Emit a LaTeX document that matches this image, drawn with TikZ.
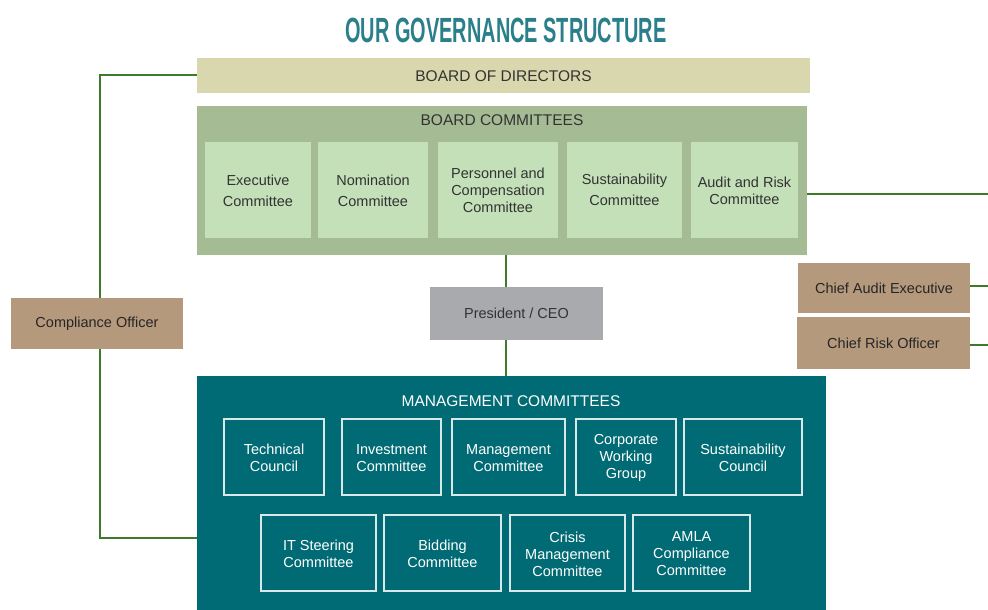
\documentclass[tikz,border=0pt]{standalone}
\usepackage{fontspec}
\setmainfont{Liberation Sans}
\usetikzlibrary{positioning}
\definecolor{titlecol}{HTML}{2B7F8A}
\definecolor{bodcol}{HTML}{D9D7AD}
\definecolor{bccol}{HTML}{A4BB94}
\definecolor{bcin}{HTML}{C3E0B8}
\definecolor{prescol}{HTML}{A9AAAD}
\definecolor{mgmtcol}{HTML}{006B74}
\definecolor{tancol}{HTML}{B5997C}
\definecolor{linecol}{HTML}{3D7A2B}
\definecolor{txtcol}{HTML}{333333}
\begin{document}
\begin{tikzpicture}[x=1pt,y=-1pt,
  txt/.style={font=\fontsize{14.5}{17}\selectfont, text=txtcol, align=center, inner sep=0pt},
  hdr/.style={font=\fontsize{15.5}{18}\selectfont, inner sep=0pt},
  panel/.style={draw=none, inner sep=0pt, anchor=north west},
  bcbox/.style={fill=bcin, draw=none},
  mgbox/.style={draw=white!85!mgmtcol, line width=1.1pt},
  tanbox/.style={fill=tancol, draw=none},
  conn/.style={draw=linecol, line width=1.3pt},
  connthick/.style={draw=linecol, line width=2pt}]
\useasboundingbox (0,0) rectangle (988,610);
\fill[white] (0,0) rectangle (988,610);

% title
\node (title) at (506,30) {\color{titlecol}\scalebox{0.57}[1]{\fontsize{35}{40}\selectfont\bfseries OUR GOVERNANCE STRUCTURE}};

% board of directors
\fill[bodcol] (197,58) rectangle (810,93);
\node[hdr, text=txtcol] (bod) at (503.5,76) {BOARD OF DIRECTORS};
\coordinate (bodw) at (197,75);

% board committees
\fill[bccol] (197,106) rectangle (807,255);
\node[hdr, text=txtcol] (bclab) at (502,120.5) {BOARD COMMITTEES};
\coordinate (bcs) at (506,255);
\coordinate (bce) at (807,194);

\fill[bcbox] (205,142) rectangle (311,238);
\node[txt] (exec) at (258,191) {Executive\\[3.5pt]Committee};
\fill[bcbox] (318,142) rectangle (428,238);
\node[txt] (nom) at (373,191) {Nomination\\[3.5pt]Committee};
\fill[bcbox] (438,142) rectangle (558,238);
\node[txt] (pers) at (498,190.5) {Personnel and\\Compensation\\Committee};
\fill[bcbox] (567,142) rectangle (682,238);
\node[txt] (sust) at (624.5,190) {Sustainability\\[3.5pt]Committee};
\fill[bcbox] (691,142) rectangle (798,238);
\node[txt] (arc) at (744.5,191) {Audit and Risk\\Committee};

% president
\node[fill=prescol, minimum width=173pt, minimum height=53pt, inner sep=0pt, txt] (ceo) at (516.5,313.5) {President / CEO};

% management committees
\fill[mgmtcol] (197,376) rectangle (826,610);
\node[hdr, text=white] (mglab) at (511,401.5) {MANAGEMENT COMMITTEES};
\coordinate (mgn) at (506,376);
\coordinate (mgw) at (197,538);

\tikzset{mtxt/.style={txt, text=white}}
\draw[mgbox] (224,419) rectangle (324,495);
\node[mtxt] (tech) at (274,458) {Technical\\Council};
\draw[mgbox] (342,419) rectangle (441,495);
\node[mtxt] (inv) at (391.5,458) {Investment\\Committee};
\draw[mgbox] (452,419) rectangle (565,495);
\node[mtxt] (mgc) at (508.5,458) {Management\\Committee};
\draw[mgbox] (576,419) rectangle (676,495);
\node[mtxt] (cwg) at (626,458) {Corporate\\Working\\Group};
\draw[mgbox] (684,419) rectangle (802,495);
\node[mtxt] (susc) at (743,458) {Sustainability\\Council};

\draw[mgbox] (261,515) rectangle (376,591);
\node[mtxt] (its) at (318.5,554) {IT Steering\\Committee};
\draw[mgbox] (384,515) rectangle (501,591);
\node[mtxt] (bid) at (442.5,554) {Bidding\\Committee};
\draw[mgbox] (510,515) rectangle (625,591);
\node[mtxt] (cmc) at (567.5,554) {Crisis\\Management\\Committee};
\draw[mgbox] (633,515) rectangle (750,591);
\node[mtxt] (amla) at (691.5,554) {AMLA\\Compliance\\Committee};

% connectors
\draw[connthick] (bcs) -- (bcs |- ceo.north);
\draw[connthick] (bcs |- ceo.south) -- (mgn);

\coordinate (vtop) at (100,75);
\coordinate (vbot) at (100,538);
\draw[conn] (bodw) -- (vtop) -- (vbot) -- (mgw);

\coordinate (rend1) at (988,194);
\draw[conn] (bce) -- (rend1);

% compliance officer
\node[tanbox, minimum width=172pt, minimum height=51pt, inner sep=0pt, txt, text=black!85] (co) at (97,323.5) {Compliance Officer};

% chiefs
\node[tanbox, minimum width=172pt, minimum height=50pt, inner sep=0pt, txt, text=black!85] (cae) at (884,288) {Chief Audit Executive};
\node[tanbox, minimum width=173pt, minimum height=52pt, inner sep=0pt, txt, text=black!85] (cro) at (883.5,343) {Chief Risk Officer};
\coordinate (rend2) at (988,286);
\coordinate (rend3) at (988,345);
\draw[connthick] (cae.east |- rend2) -- (rend2);
\draw[conn] (cro.east |- rend3) -- (rend3);
\end{tikzpicture}
\end{document}
